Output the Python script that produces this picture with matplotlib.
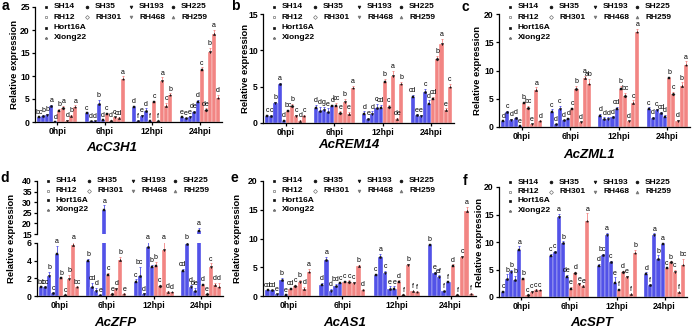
import numpy as np
import matplotlib
matplotlib.use("Agg")
import matplotlib.pyplot as plt

plt.rcParams['font.family'] = ['Liberation Sans', 'DejaVu Sans']

W, H = 692, 332
groups = ["0hpi", "6hpi", "12hpi", "24hpi"]
series = ["SH14", "SH35", "SH193", "SH225", "Hort16A",
          "RH12", "RH301", "RH468", "RH259", "Xiong22"]
legend_order = ["SH14", "SH35", "SH193", "SH225",
                "RH12", "RH301", "RH468", "RH259",
                "Hort16A", None, None, None,
                "Xiong22", None, None, None]

# ---------------- data (4 groups x 10 series) ----------------
a_vals = [[1.0, 1.3, 1.6, 3.5, 0.1, 2.5, 3.0, 0.3, 1.3, 3.2],
          [2.0, 0.2, 0.2, 4.0, 0.4, 1.8, 0.3, 1.0, 0.8, 9.3],
          [3.2, 0.3, 1.3, 2.4, 0.2, 4.4, 0.2, 9.0, 3.5, 5.8],
          [1.0, 0.8, 1.0, 2.2, 4.3, 11.3, 2.7, 15.3, 19.2, 5.2]]
a_err = [[0.1, 0.2, 0.2, 0.3, 0.05, 0.4, 0.5, 0.1, 0.2, 0.4],
         [0.1, 0.05, 0.05, 0.8, 0.1, 0.2, 0.1, 0.1, 0.2, 0.6],
         [0.3, 0.05, 0.3, 0.6, 0.05, 0.2, 0.05, 0.7, 0.6, 0.4],
         [0.1, 0.1, 0.2, 0.3, 0.5, 0.6, 0.3, 0.8, 0.8, 0.7]]
a_let = [["bc", "b", "b", "a", "d", "b", "a", "d", "b", "a"],
         ["c", "d", "d", "b", "d", "c", "d", "c", "cd", "a"],
         ["d", "f", "e", "d", "f", "c", "f", "a", "c", "b"],
         ["e", "e", "e", "de", "d", "c", "de", "b", "a", "d"]]

b_vals = [[1.0, 1.0, 2.7, 5.3, 0.3, 1.6, 2.4, 1.0, 0.3, 1.0],
          [2.1, 1.7, 1.8, 1.5, 2.3, 2.4, 1.4, 2.9, 1.3, 4.8],
          [1.3, 0.6, 1.2, 2.1, 2.0, 5.6, 2.2, 6.5, 0.6, 5.3],
          [3.6, 1.1, 1.0, 4.2, 2.6, 3.3, 8.8, 10.9, 1.8, 5.0]]
b_err = [[0.1, 0.1, 0.2, 0.2, 0.1, 0.2, 0.2, 0.1, 0.1, 0.1],
         [0.4, 0.5, 0.4, 0.5, 0.2, 0.4, 0.2, 0.4, 0.2, 0.3],
         [0.3, 0.1, 0.4, 0.5, 0.5, 0.5, 0.3, 0.7, 0.1, 0.4],
         [0.3, 0.1, 0.1, 0.5, 0.5, 0.3, 0.4, 0.7, 0.2, 0.4]]
b_let = [["c", "c", "b", "a", "d", "bc", "b", "c", "d", "c"],
         ["d", "d", "g", "e", "d", "bc", "e", "b", "e", "a"],
         ["d", "e", "d", "c", "cd", "b", "c", "a", "de", "b"],
         ["cd", "e", "e", "c", "d", "cd", "b", "a", "e", "c"]]

c_vals = [[1.0, 2.6, 1.3, 1.6, 0.2, 4.3, 3.4, 0.5, 6.5, 1.1],
          [2.7, 0.5, 3.2, 1.2, 1.4, 3.2, 6.7, 0.8, 8.6, 7.6],
          [2.0, 1.5, 1.5, 1.7, 3.2, 6.8, 5.4, 1.0, 4.3, 16.8],
          [3.2, 1.6, 3.0, 2.4, 1.8, 8.6, 5.8, 1.1, 7.3, 10.9]]
c_err = [[0.1, 0.3, 0.2, 0.2, 0.05, 0.2, 0.3, 0.1, 0.5, 0.1],
         [0.4, 0.1, 0.6, 0.1, 0.2, 0.2, 0.6, 0.1, 0.5, 0.9],
         [0.3, 0.2, 0.2, 0.2, 0.4, 0.5, 0.6, 0.1, 0.4, 0.6],
         [0.3, 0.2, 0.2, 0.3, 0.4, 0.3, 0.4, 0.2, 0.6, 0.7]]
c_let = [["d", "c", "d", "d", "e", "b", "bc", "e", "a", "d"],
         ["c", "d", "c", "d", "d", "c", "b", "d", "a", "ab"],
         ["d", "d", "d", "d", "cd", "b", "bc", "d", "c", "a"],
         ["c", "d", "c", "cd", "d", "b", "c", "d", "b", "a"]]

d_vals = [[1.0, 1.0, 2.3, 0.3, 4.7, 2.0, 0.1, 1.9, 5.8, 1.0],
          [4.0, 1.0, 0.6, 0.1, 26.5, 2.4, 0.2, 0.8, 4.1, 0.2],
          [1.6, 2.3, 0.2, 5.6, 3.3, 3.4, 1.1, 5.2, 0.5, 0.4],
          [2.8, 5.9, 1.0, 0.6, 16.5, 1.3, 0.2, 3.3, 1.2, 1.0]]
d_err = [[0.1, 0.1, 0.4, 0.1, 1.0, 0.1, 0.05, 0.5, 0.3, 0.1],
         [0.2, 0.5, 0.3, 0.05, 2.0, 0.2, 0.1, 0.1, 0.3, 0.1],
         [0.3, 1.0, 0.1, 0.6, 0.2, 0.5, 0.2, 1.0, 0.1, 0.1],
         [0.3, 0.2, 0.3, 0.3, 1.5, 0.1, 0.05, 0.4, 0.3, 0.5]]
d_let = [["bc", "bc", "b", "c", "a", "b", "c", "b", "a", "bc"],
         ["b", "cd", "d", "e", "a", "c", "e", "d", "b", "e"],
         ["c", "bc", "d", "a", "b", "b", "c", "a", "d", "d"],
         ["cd", "b", "d", "de", "a", "d", "e", "c", "d", "d"]]

e_vals = [[1.0, 1.0, 0.3, 2.7, 0.2, 1.2, 1.8, 2.5, 1.3, 4.2],
          [2.0, 6.2, 0.8, 1.8, 2.2, 2.4, 2.5, 2.3, 5.2, 1.0],
          [3.6, 6.8, 4.0, 1.3, 1.2, 2.5, 0.2, 5.4, 0.8, 0.7],
          [8.8, 4.0, 3.3, 0.8, 2.4, 5.3, 0.2, 6.8, 14.7, 0.4]]
e_err = [[0.1, 0.1, 0.1, 0.5, 0.1, 0.2, 0.2, 0.3, 0.3, 0.5],
         [0.3, 0.6, 0.4, 0.3, 0.1, 0.2, 0.2, 0.2, 0.2, 0.2],
         [0.3, 0.5, 0.4, 0.4, 0.5, 0.2, 0.1, 0.2, 0.1, 0.1],
         [0.3, 0.2, 0.3, 0.1, 0.1, 0.2, 0.1, 0.2, 0.8, 0.1]]
e_let = [["cd", "cd", "e", "b", "e", "cd", "c", "b", "d", "a"],
         ["d", "a", "d", "bd", "c", "c", "c", "c", "b", "d"],
         ["c", "a", "c", "e", "e", "d", "f", "b", "f", "f"],
         ["b", "e", "ef", "f", "f", "d", "f", "c", "a", "f"]]

f_vals = [[1.0, 3.3, 4.5, 3.1, 8.6, 3.3, 0.4, 1.0, 1.3, 1.2],
          [7.4, 8.1, 14.6, 9.9, 3.7, 1.5, 4.3, 2.3, 2.0, 13.9],
          [5.6, 7.6, 11.3, 6.3, 2.6, 1.3, 4.6, 3.6, 0.5, 8.0],
          [4.2, 2.2, 11.3, 7.0, 9.6, 5.2, 6.3, 4.6, 0.9, 5.9]]
f_err = [[0.1, 0.8, 0.4, 0.8, 0.6, 0.2, 0.1, 0.1, 0.1, 0.1],
         [0.4, 0.3, 0.5, 0.2, 0.3, 0.3, 0.3, 0.2, 0.1, 1.3],
         [0.4, 0.3, 0.4, 0.3, 1.0, 0.2, 0.2, 0.3, 0.1, 0.6],
         [0.3, 0.1, 0.3, 0.6, 0.3, 0.1, 0.2, 0.3, 0.1, 1.0]]
f_let = [["c", "b", "b", "b", "a", "b", "c", "c", "c", "c"],
         ["c", "c", "a", "b", "de", "e", "d", "e", "e", "a"],
         ["d", "bc", "a", "c", "e", "f", "d", "e", "f", "b"],
         ["d", "f", "a", "b", "a", "c", "b", "c", "f", "bc"]]

genes = ["AcC3H1", "AcREM14", "AcZML1", "AcZFP", "AcAS1", "AcSPT"]
panel_tags = ["a", "b", "c", "d", "e", "f"]

# ---------------- styling ----------------
BLUE = "#5252E8"
RED = "#F28583"
colors = [BLUE] * 5 + [RED] * 5
markers = {"SH14": "s", "SH35": "o", "SH193": "v", "SH225": "o", "Hort16A": "s",
           "RH12": "s", "RH301": "D", "RH468": "v", "RH259": "^", "Xiong22": "*"}
mcolor = {s: ("#111111" if s.startswith("SH") or s == "Hort16A" else "#777777") for s in series}
mfill = {s: ("none" if s in ("RH12", "RH301") else mcolor[s]) for s in series}

BW = 0.085
FS_TICK = 6.2

fig = plt.figure(figsize=(W / 100, H / 100), dpi=100)


def px_axes(l, t, r, b):
    return fig.add_axes([l / W, 1 - b / H, (r - l) / W, (b - t) / H])


def style_axis(ax, ylim, yticks, show_x=True):
    ax.set_xlim(-0.47, 3.47)
    ax.set_ylim(*ylim)
    ax.set_yticks(yticks)
    for s in ("top", "right"):
        ax.spines[s].set_visible(False)
    for s in ("left", "bottom"):
        ax.spines[s].set_linewidth(0.9)
    ax.tick_params(axis="both", length=2.5, width=0.9, pad=1.2, labelsize=FS_TICK)
    for lab in ax.get_yticklabels():
        lab.set_fontweight("bold")
    if show_x:
        ax.set_xticks(range(4))
        ax.set_xticklabels(groups, fontsize=FS_TICK, fontweight="bold")
    else:
        ax.set_xticks([])
        ax.spines["bottom"].set_visible(False)


def draw_bars(ax, vals, errs, lets, label_max=None):
    vals = np.array(vals)
    errs = np.array(errs)
    for i, s in enumerate(series):
        xs = np.arange(4) + (i - 4.5) * BW
        ax.bar(xs, vals[:, i], width=BW, color=colors[i], edgecolor="white",
               linewidth=0.25, zorder=2)
        ax.errorbar(xs, vals[:, i], yerr=[np.zeros(4), errs[:, i]], fmt="none",
                    ecolor=colors[i], elinewidth=0.6, capsize=0.9, capthick=0.6, zorder=3)
        ax.plot(xs, vals[:, i], linestyle="none", marker=markers[s], ms=1.6,
                mec="#111111", mfc="#111111", mew=0.3, zorder=4)
        for g in range(4):
            top = vals[g, i] + errs[g, i]
            if label_max is not None and not (label_max[0] <= top < label_max[1]):
                continue
            ax.annotate(lets[g][i], (xs[g], top), xytext=(0, 0.5),
                        textcoords="offset points", ha="center", va="bottom",
                        fontsize=5.0, zorder=5, annotation_clip=False)


# overlay for pixel-positioned texts
ov = fig.add_axes([0, 0, 1, 1], zorder=10)
ov.set_xlim(0, W)
ov.set_ylim(H, 0)
ov.axis("off")


def legend(left, y0, dy):
    offs = [19, 60, 104, 146]
    for k, s in enumerate(legend_order):
        if s is None:
            continue
        r, c = divmod(k, 4)
        tx = left + offs[c]
        ty = y0 + r * dy
        ov.plot([tx - 8], [ty], linestyle="none", marker=markers[s], ms=2.0,
                mec=mcolor[s], mfc=mfill[s], mew=0.5)
        ov.text(tx, ty, s, fontsize=6, fontweight="bold", va="center", ha="left")


panels = [
    dict(box=(35, 7, 222, 122), ylim=(0, 25), ticks=range(0, 26, 5),
         vals=a_vals, err=a_err, let=a_let, ylab_x=15, title=(112, 148), tag=(5, 6), leg=(7, 10.3)),
    dict(box=(263, 14, 454, 123), ylim=(0, 15), ticks=range(0, 16, 5),
         vals=b_vals, err=b_err, let=b_let, ylab_x=245, title=(349, 145), tag=(235, 6), leg=(7, 10.3)),
    dict(box=(499, 14, 690, 127), ylim=(0, 20), ticks=range(0, 21, 5),
         vals=c_vals, err=c_err, let=c_let, ylab_x=477, title=(589, 155), tag=(465, 7), leg=(7, 10.3)),
    None,
    dict(box=(263, 181, 476, 296), ylim=(0, 20), ticks=range(0, 21, 5),
         vals=e_vals, err=e_err, let=e_let, ylab_x=237, title=(345, 323), tag=(234, 178), leg=(181, 9.5)),
    dict(box=(499, 187, 687, 297), ylim=(0, 20), ticks=range(0, 21, 5),
         vals=f_vals, err=f_err, let=f_let, ylab_x=480, title=(592, 323), tag=(465, 181), leg=(182, 9.5)),
]

for k, p in enumerate(panels):
    if p is None:
        continue
    l, t, r, b = p["box"]
    ax = px_axes(l, t, r, b)
    draw_bars(ax, p["vals"], p["err"], p["let"])
    style_axis(ax, p["ylim"], list(p["ticks"]))
    ov.text(p["ylab_x"], (t + b) / 2, "Relative expression", rotation=90,
            fontsize=6.8, fontweight="bold", ha="center", va="center")
    ov.text(p["title"][0], p["title"][1], genes[k], fontsize=9.5, fontweight="bold",
            fontstyle="italic", ha="center", va="center")
    ov.text(p["tag"][0], p["tag"][1], panel_tags[k], fontsize=10, fontweight="bold",
            ha="center", va="center")
    legend(l, p["leg"][0], p["leg"][1])

# panel d: broken axis
axd_lo = px_axes(37, 243, 223, 296)
axd_hi = px_axes(37, 181, 223, 234)
draw_bars(axd_lo, d_vals, d_err, d_let, label_max=(-1, 7.5))
draw_bars(axd_hi, d_vals, d_err, d_let, label_max=(7.5, 100))
style_axis(axd_lo, (0, 6), [0, 2, 4, 6])
style_axis(axd_hi, (15, 40), [15, 20, 25, 30, 35, 40], show_x=False)
ov.text(12, 238, "Relative expression", rotation=90, fontsize=6.8,
        fontweight="bold", ha="center", va="center")
ov.text(115, 323, genes[3], fontsize=9.5, fontweight="bold", fontstyle="italic",
        ha="center", va="center")
ov.text(5, 178, "d", fontsize=10, fontweight="bold", ha="center", va="center")
legend(37, 181, 9.5)

fig.savefig("out.png", dpi=100)
